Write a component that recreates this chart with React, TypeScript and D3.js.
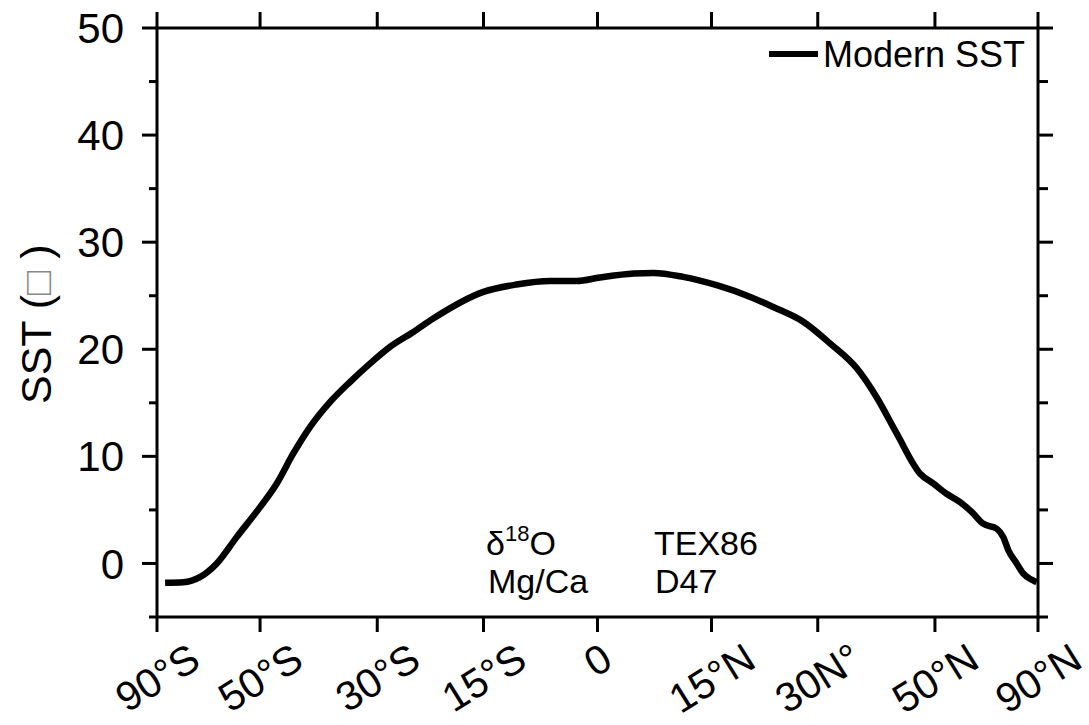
import React from 'react';
import * as d3 from 'd3';

const latitudes = [-79, -70.1, -64.5, -59.8, -55, -50, -46.75, -43.7, -40.75, -37.4, -34.2, -31.1, -28.1, -24.7, -21.9, -15.0, -10.6, -6.2, -2.7, 0.3, 4.7, 7.3, 11.2, 15.7, 20.3, 23.5, 27.9, 31.9, 36.1, 39.3, 42.8, 47.1, 49.7, 52.4, 55.4, 58.2, 61.1, 65.0, 67.1, 68.9, 72.1, 75.2, 80.0, 85.6];
const modernSST = [-1.8, -1.75, -1.28, 0, 2.46, 5.26, 7.45, 10.25, 12.74, 15.07, 16.94, 18.66, 20.22, 21.62, 22.87, 25.36, 26.05, 26.38, 26.38, 26.7, 27.07, 27.13, 26.76, 25.98, 24.89, 23.95, 22.55, 20.53, 18.2, 15.54, 12.12, 8.38, 7.45, 6.51, 5.73, 4.8, 3.71, 3.24, 2.46, 1.21, 0, -0.96, -1.5, -1.75];

const xTickLats = [-90, -50, -30, -15, 0, 15, 30, 50, 90];
const xTickLabels = ['90°S', '50°S', '30°S', '15°S', '0', '15°N', '30N°', '50°N', '90°N'];
const yMajorTicks = [0, 10, 20, 30, 40, 50];
const yMinorTicks = [-5, 5, 15, 25, 35, 45];
const legendLabel = 'Modern SST';
const proxyColumn1 = ['δ18O', 'Mg/Ca'];
const proxyColumn2 = ['TEX86', 'D47'];

const W = 1089;
const H = 725;
const FONT = '"Liberation Sans", Arial, sans-serif';

const measure = (txt: string, size: number) => {
  const c = document.createElement('canvas').getContext('2d');
  if (!c) return txt.length * size * 0.55;
  c.font = `${size}px "Liberation Sans"`;
  return c.measureText(txt).width;
};

export default function App() {
  const left = 157, right = 1038, top = 28, bottom = 617;
  const sx = d3.scaleLinear().domain([-1, 1]).range([left, right]);
  const x = (lat: number) => sx(Math.sin((lat * Math.PI) / 180));
  const y = d3.scaleLinear().domain([-5, 50]).range([bottom, top]);

  const pts = latitudes.map((lat, i) => [lat, modernSST[i]] as [number, number]);
  const line = d3
    .line<[number, number]>()
    .x((d) => x(d[0]))
    .y((d) => y(d[1]))
    .curve(d3.curveMonotoneX);

  const major = 15, minor = 8, sw = 3;
  const tickFs = 41;
  const theta = 32;
  const t = (theta * Math.PI) / 180;
  const capH = 0.716 * tickFs;
  const labelTop = 641;

  return (
    <svg width={W} height={H} style={{ position: 'absolute', left: 0, top: 0, background: '#fff' }} fontFamily={FONT}>
      <rect x={0} y={0} width={W} height={H} fill="#fff" />
      {/* frame */}
      <rect x={left} y={top} width={right - left} height={bottom - top} fill="none" stroke="#000" strokeWidth={sw} />
      {/* y ticks left & right */}
      {yMajorTicks.map((v) => (
        <g key={'M' + v}>
          <line x1={left - major} x2={left} y1={y(v)} y2={y(v)} stroke="#000" strokeWidth={sw} />
          <line x1={right} x2={right + major} y1={y(v)} y2={y(v)} stroke="#000" strokeWidth={sw} />
          <text x={124} y={y(v)} dy="0.36em" textAnchor="end" fontSize={42}>{v}</text>
        </g>
      ))}
      {yMinorTicks.map((v) => (
        <g key={'m' + v}>
          <line x1={left - minor} x2={left} y1={y(v)} y2={y(v)} stroke="#000" strokeWidth={sw} />
          <line x1={right} x2={right + minor + 2} y1={y(v)} y2={y(v)} stroke="#000" strokeWidth={sw} />
        </g>
      ))}
      {/* x ticks bottom & top */}
      {xTickLats.map((lat, i) => {
        const tx = x(lat);
        const L = measure(xTickLabels[i], tickFs);
        const bx = tx + (capH / 2) * Math.sin(t);
        const by = labelTop + (L / 2) * Math.sin(t) + capH * Math.cos(t);
        return (
          <g key={'x' + lat}>
            <line x1={tx} x2={tx} y1={bottom} y2={bottom + major} stroke="#000" strokeWidth={sw} />
            <line x1={tx} x2={tx} y1={top - major - 1} y2={top} stroke="#000" strokeWidth={sw} />
            <text transform={`translate(${bx},${by}) rotate(${-theta})`} textAnchor="middle" fontSize={tickFs}>
              {xTickLabels[i]}
            </text>
          </g>
        );
      })}
      {/* y axis title */}
      <text transform={`translate(51,404) rotate(-90)`} textAnchor="start" fontSize={43}>
        SST (<tspan fill="#888" fontSize={40}>□</tspan>  )
      </text>
      {/* data line */}
      <path d={line(pts) || ''} fill="none" stroke="#000" strokeWidth={6.5} strokeLinejoin="round" strokeLinecap="butt" />
      {/* legend */}
      <line x1={769} x2={818} y1={54} y2={54} stroke="#000" strokeWidth={6} />
      <text x={823} y={67} fontSize={36}>{legendLabel}</text>
      {/* proxies annotation */}
      <text x={486} y={555} fontSize={34}>
        {proxyColumn1[0].slice(0, 1)}
        <tspan fontSize={22} dy={-14}>{proxyColumn1[0].slice(1, 3)}</tspan>
        <tspan dy={14}>{proxyColumn1[0].slice(3)}</tspan>
      </text>
      <text x={488} y={593} fontSize={34}>{proxyColumn1[1]}</text>
      <text x={654} y={555} fontSize={34}>{proxyColumn2[0]}</text>
      <text x={655} y={593} fontSize={34}>{proxyColumn2[1]}</text>
    </svg>
  );
}
